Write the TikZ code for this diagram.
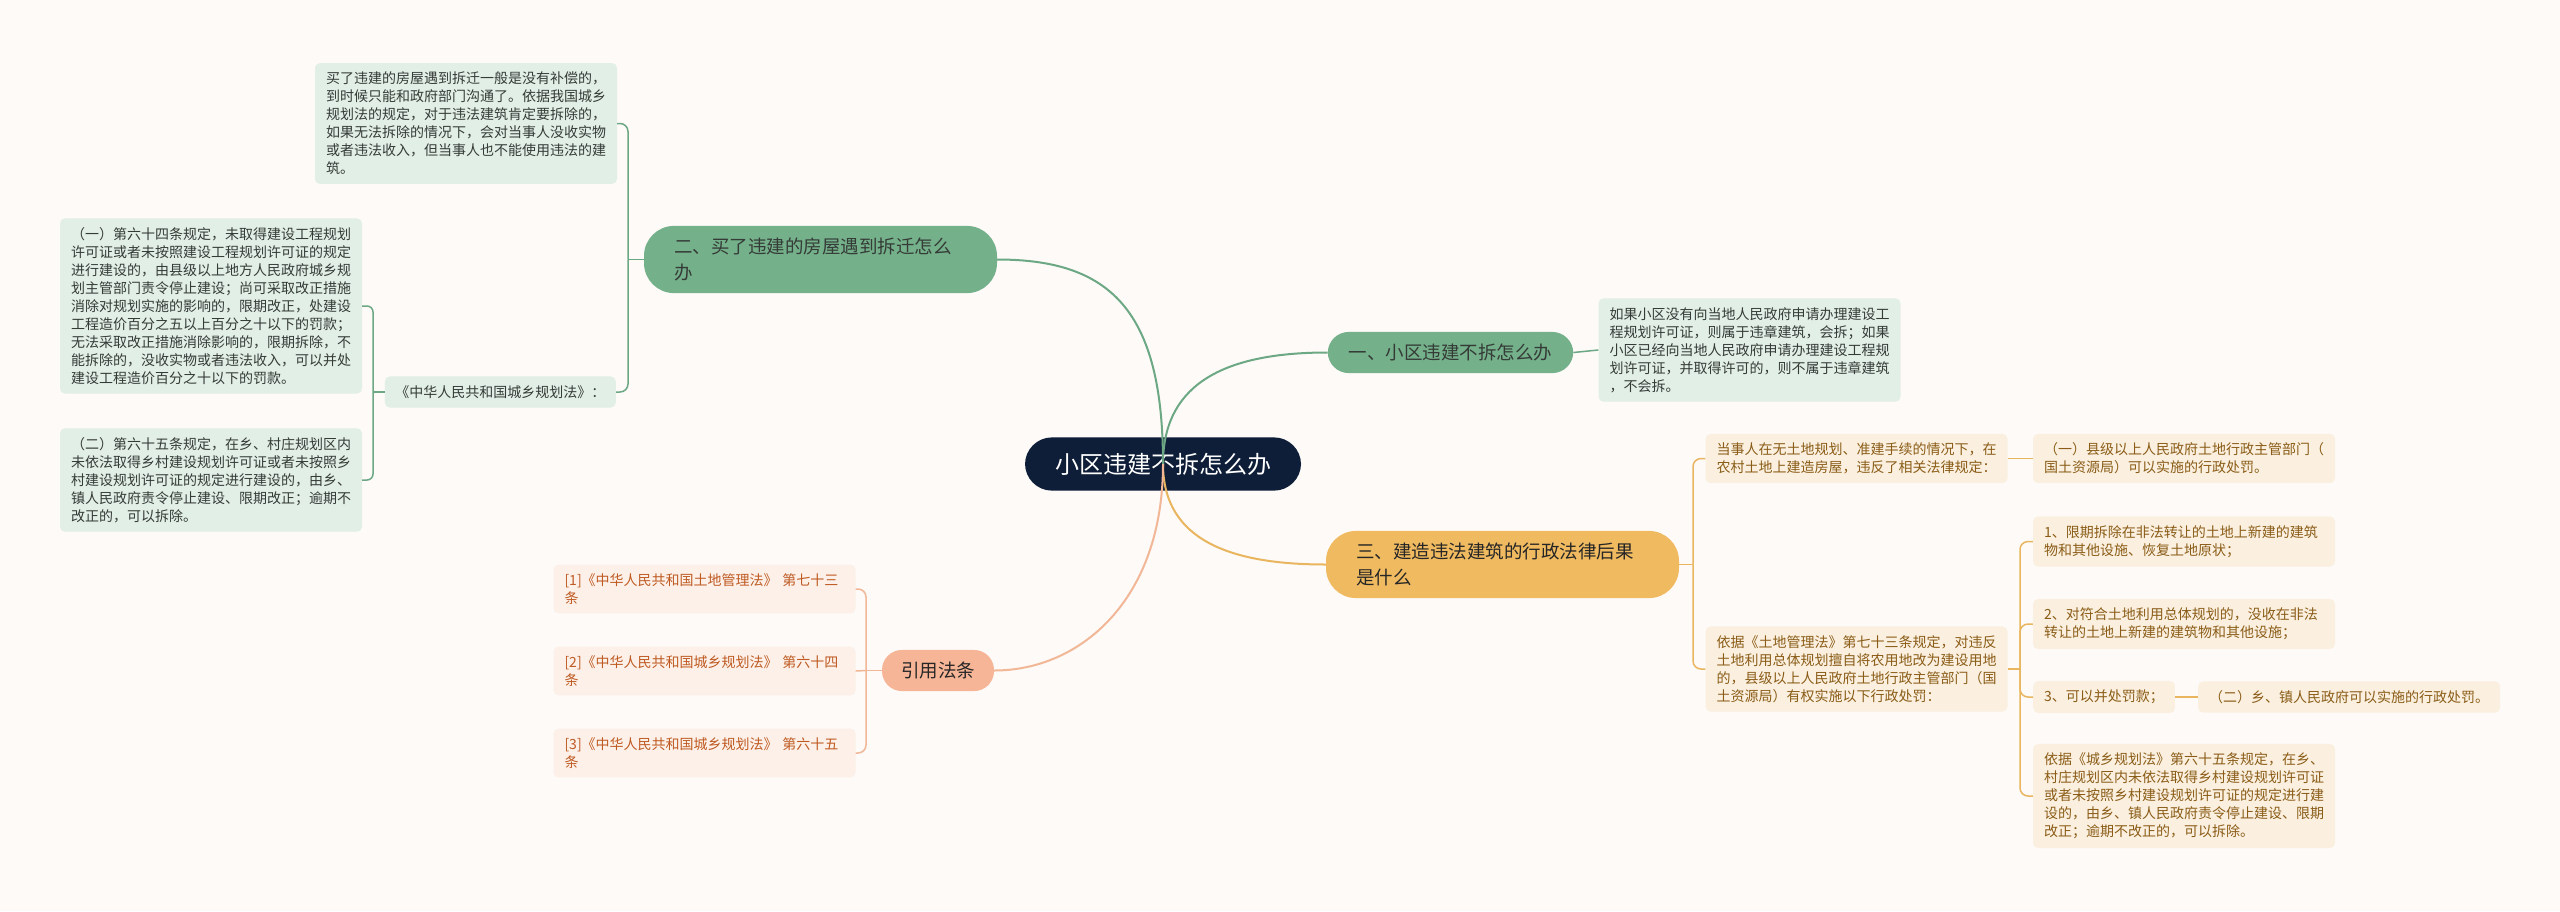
\documentclass[tikz,border=0pt]{standalone}
\usepackage{fontspec}
\setmainfont{Noto Sans CJK SC}
\definecolor{paper}{HTML}{FDFAF8}
\definecolor{navy}{HTML}{0E1E38}
\definecolor{greenln}{HTML}{6DA884}
\definecolor{greenpill}{HTML}{74B08A}
\definecolor{greenbg}{HTML}{E2EFE6}
\definecolor{greentx}{HTML}{353B37}
\definecolor{orangeln}{HTML}{E9B55E}
\definecolor{orangepill}{HTML}{F0BA60}
\definecolor{orangebg}{HTML}{FBF0DF}
\definecolor{orangetx}{HTML}{8A5C17}
\definecolor{salmonln}{HTML}{F2B796}
\definecolor{salmonpill}{HTML}{F6B596}
\definecolor{salmonbg}{HTML}{FCF0E8}
\definecolor{salmontx}{HTML}{BF5A22}
\begin{document}
\begin{tikzpicture}[x=1pt,y=-1pt,
leaf/.style={rounded corners=5pt,inner xsep=11pt,inner ysep=9pt,align=left,font=\fontsize{14}{18}\selectfont},
wide/.style={text width=280pt},
leafg/.style={leaf,fill=greenbg,text=greentx},
leafo/.style={leaf,fill=orangebg,text=orangetx},
leafs/.style={leaf,fill=salmonbg,text=salmontx},
branch/.style={align=left,inner ysep=12pt,font=\fontsize{18.5}{26}\selectfont},
twoline/.style={branch,text width=293pt,inner xsep=30pt,rounded corners=30pt},
mainln/.style={line width=2pt},
subln/.style={line width=1.5pt,rounded corners=8pt}]
\fill[paper] (0,0) rectangle (2560,911);
\useasboundingbox (0,0) rectangle (2560,911);

\node[fill=navy,text=white,rounded corners=27pt,inner xsep=30pt,inner ysep=15.5pt,font=\fontsize{24}{28}\selectfont] (root) at (1163,464) {小区违建不拆怎么办};

\node[branch,fill=greenpill,text=greentx,inner xsep=21pt,rounded corners=21pt] (b1) at (1450.5,352.5) {一、小区违建不拆怎么办};
\node[twoline,fill=greenpill,text=greentx] (b2) at (820.5,259.5) {二、买了违建的房屋遇到拆迁怎么\\办};
\node[twoline,fill=orangepill,text=black!85] (b3) at (1502.5,564.5) {三、建造违法建筑的行政法律后果\\是什么};
\node[branch,fill=salmonpill,text=black!85,inner xsep=19pt,rounded corners=20pt] (b4) at (938,670.5) {引用法条};

\node[leafg,wide] (d1) at (1749.5,350) {如果小区没有向当地人民政府申请办理建设工\\程规划许可证，则属于违章建筑，会拆；如果\\小区已经向当地人民政府申请办理建设工程规\\划许可证，并取得许可的，则不属于违章建筑\\，不会拆。};

\node[leafg,wide] (d2a) at (466,123.5) {买了违建的房屋遇到拆迁一般是没有补偿的，\\到时候只能和政府部门沟通了。依据我国城乡\\规划法的规定，对于违法建筑肯定要拆除的，\\如果无法拆除的情况下，会对当事人没收实物\\或者违法收入，但当事人也不能使用违法的建\\筑。};
\node[leafg,anchor=east,inner xsep=10.5pt] (law) at (616,392) {《中华人民共和国城乡规划法》：};
\node[leafg,wide] (d2b) at (211,306) {（一）第六十四条规定，未取得建设工程规划\\许可证或者未按照建设工程规划许可证的规定\\进行建设的，由县级以上地方人民政府城乡规\\划主管部门责令停止建设；尚可采取改正措施\\消除对规划实施的影响的，限期改正，处建设\\工程造价百分之五以上百分之十以下的罚款；\\无法采取改正措施消除影响的，限期拆除，不\\能拆除的，没收实物或者违法收入，可以并处\\建设工程造价百分之十以下的罚款。};
\node[leafg,wide] (d2c) at (211,480) {（二）第六十五条规定，在乡、村庄规划区内\\未依法取得乡村建设规划许可证或者未按照乡\\村建设规划许可证的规定进行建设的，由乡、\\镇人民政府责令停止建设、限期改正；逾期不\\改正的，可以拆除。};

\node[leafs,wide] (r1) at (704.5,589) {[1]《中华人民共和国土地管理法》 第七十三\\条};
\node[leafs,wide] (r2) at (704.5,671) {[2]《中华人民共和国城乡规划法》 第六十四\\条};
\node[leafs,wide] (r3) at (704.5,753) {[3]《中华人民共和国城乡规划法》 第六十五\\条};

\node[leafo,wide] (o1) at (1856.5,458.5) {当事人在无土地规划、准建手续的情况下，在\\农村土地上建造房屋，违反了相关法律规定：};
\node[leafo,wide] (o1a) at (2184,458.5) {（一）县级以上人民政府土地行政主管部门（\\国土资源局）可以实施的行政处罚。};
\node[leafo,wide] (o2) at (1856.5,669) {依据《土地管理法》第七十三条规定，对违反\\土地利用总体规划擅自将农用地改为建设用地\\的，县级以上人民政府土地行政主管部门（国\\土资源局）有权实施以下行政处罚：};
\node[leafo,wide] (o2a) at (2184,541.5) {1、限期拆除在非法转让的土地上新建的建筑\\物和其他设施、恢复土地原状；};
\node[leafo,wide] (o2b) at (2184,624) {2、对符合土地利用总体规划的，没收在非法\\转让的土地上新建的建筑物和其他设施；};
\node[leafo,anchor=west] (o2c) at (2033,697) {3、可以并处罚款；};
\node[leafo,anchor=west] (o2d) at (2198,697) {（二）乡、镇人民政府可以实施的行政处罚。};
\node[leafo,wide] (o2e) at (2184,796) {依据《城乡规划法》第六十五条规定，在乡、\\村庄规划区内未依法取得乡村建设规划许可证\\或者未按照乡村建设规划许可证的规定进行建\\设的，由乡、镇人民政府责令停止建设、限期\\改正；逾期不改正的，可以拆除。};

\draw[mainln,greenln] (root.center) .. controls (1163,390) and (1215,352.5) .. (b1.west);
\draw[mainln,greenln] (root.center) .. controls (1163,310) and (1110,259.5) .. (b2.east);
\draw[mainln,orangeln] (root.center) .. controls (1163,540) and (1230,564.5) .. (b3.west);
\draw[mainln,salmonln] (root.center) .. controls (1163,600) and (1080,670.5) .. (b4.east);

\draw[subln,greenln] (b1.east) -- (d1.west);
\draw[subln,greenln] (b2.west) -- (628,259.5);
\draw[subln,greenln] (628,259.5) |- (d2a.east);
\draw[subln,greenln] (628,259.5) |- (law.east);
\draw[subln,greenln] (law.west) -- (373,392);
\draw[subln,greenln,rounded corners=6pt] (373,392) |- (d2b.east);
\draw[subln,greenln,rounded corners=6pt] (373,392) |- (d2c.east);

\draw[subln,salmonln] (b4.west) -- (866,670.5);
\draw[subln,salmonln] (866,670.5) |- (r1.east);
\draw[subln,salmonln] (866,670.5) -- (r2.east);
\draw[subln,salmonln] (866,670.5) |- (r3.east);

\draw[subln,orangeln] (b3.east) -- (1693,564.5);
\draw[subln,orangeln] (1693,564.5) |- (o1.west);
\draw[subln,orangeln] (1693,564.5) |- (o2.west);
\draw[subln,orangeln] (o1.east) -- (o1a.west);
\draw[subln,orangeln] (o2.east) -- (2020,669);
\draw[subln,orangeln] (2020,669) |- (o2a.west);
\draw[subln,orangeln] (2020,669) |- (o2b.west);
\draw[subln,orangeln] (2020,669) |- (o2c.west);
\draw[subln,orangeln] (2020,669) |- (o2e.west);
\draw[subln,orangeln] (o2c.east) -- (o2d.west);
\end{tikzpicture}
\end{document}
